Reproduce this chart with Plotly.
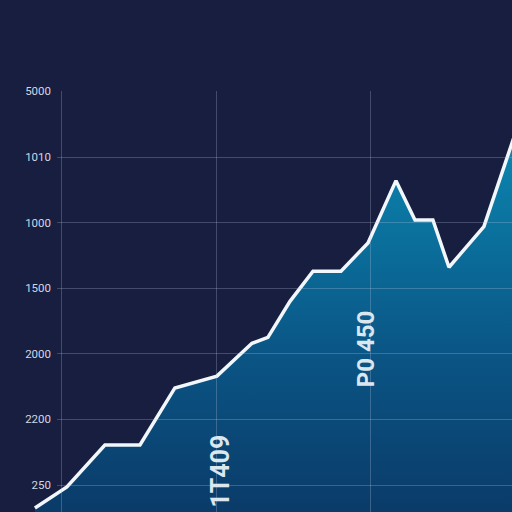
import plotly.graph_objects as go

# ---- data ----
x_vals = [-0.175, 0.032, 0.278, 0.505, 0.731, 1.003, 1.230, 1.333, 1.476, 1.625,
          1.806, 1.981, 2.162, 2.285, 2.401, 2.505, 2.731, 2.913, 2.964]
y_vals = [-0.35, -0.03, 0.61, 0.61, 1.48, 1.66, 2.16, 2.25, 2.80, 3.26,
          3.26, 3.69, 4.64, 4.04, 4.04, 3.32, 3.94, 5.21, 5.57]
y_tickvals = [0, 1, 2, 3, 4, 5, 6]
y_ticktext = ["250", "2200", "2000", "1500", "1000", "1010", "5000"]
x_tickvals = [0, 1, 2]
labels = ["1T409", "P0 450"]

BG = "#171e3f"
GRID = "rgba(190,200,225,0.27)"

X_RANGE = [-0.401, 2.913]
Y_RANGE = [-0.411, 7.287]

fig = go.Figure()

# baseline for the fill (bottom of the plot)
fig.add_trace(go.Scatter(
    x=x_vals, y=[Y_RANGE[0]] * len(x_vals), mode="lines",
    line=dict(width=0), hoverinfo="skip", showlegend=False))

fig.add_trace(go.Scatter(
    x=x_vals, y=y_vals, mode="lines", fill="tonexty",
    line=dict(color="#f2f7fb", width=3.5),
    fillgradient=dict(type="vertical",
                      colorscale=[[0, "#0a3b69"], [0.4, "#0a5585"],
                                  [0.75, "#0b74a0"], [1, "#0c8ab5"]]),
    hoverinfo="skip", showlegend=False))

# invisible trace to create the grid subplot
fig.add_trace(go.Scatter(
    x=[0], y=[0], xaxis="x2", yaxis="y2", mode="markers",
    marker=dict(opacity=0), hoverinfo="skip", showlegend=False))

fig.update_layout(
    width=512, height=512,
    margin=dict(l=0, r=0, t=0, b=0, pad=0),
    paper_bgcolor=BG, plot_bgcolor="rgba(0,0,0,0)",
    xaxis=dict(domain=[0, 1], range=X_RANGE, visible=False, fixedrange=True),
    yaxis=dict(domain=[0, 1], range=Y_RANGE, visible=False, fixedrange=True),
    xaxis2=dict(domain=[57 / 512, 1], range=[-0.032, X_RANGE[1]], anchor="y2",
                tickvals=x_tickvals, showticklabels=False, showgrid=True,
                gridcolor=GRID, gridwidth=1, zeroline=False, showline=False,
                fixedrange=True),
    yaxis2=dict(domain=[0, 0.8328], range=[Y_RANGE[0], 6], anchor="x2",
                tickvals=y_tickvals, ticktext=y_ticktext, showgrid=True,
                gridcolor=GRID, gridwidth=1, zeroline=False, showline=False,
                ticklabelstandoff=5,
                tickfont=dict(family="Roboto", size=11.5, color="#d2d7e2"),
                fixedrange=True),
    annotations=[
        dict(text=labels[0], x=221 / 512, y=1 - 471 / 512, xref="paper", yref="paper",
             xanchor="center", yanchor="middle",
             textangle=-90, showarrow=False,
             font=dict(family="Roboto", size=25, color="#dbe6ef", weight="bold")),
        dict(text=labels[1], x=366 / 512, y=1 - 347 / 512, xref="paper", yref="paper",
             xanchor="center", yanchor="middle",
             textangle=-90, showarrow=False,
             font=dict(family="Roboto", size=24, color="#dbe6ef", weight="bold")),
    ],
)

fig.write_html("out.html")
